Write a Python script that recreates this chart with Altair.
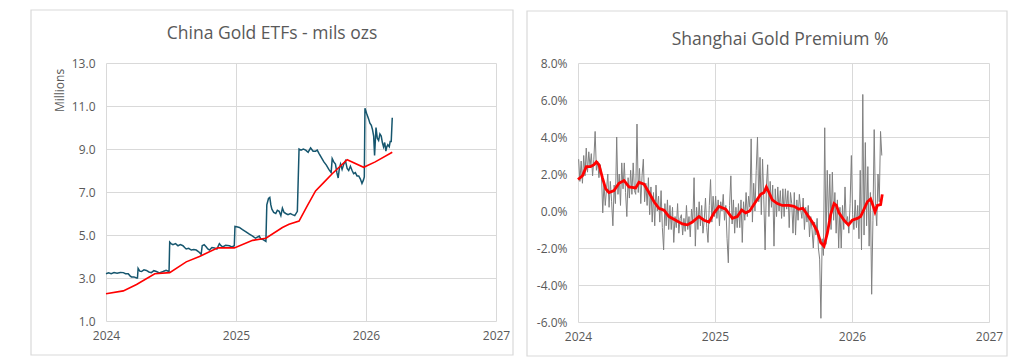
import altair as alt
import pandas as pd

# ---------------- data: China Gold ETFs (millions oz) ----------------
etf_x = [2024.0, 2024.020, 2024.040, 2024.062, 2024.085, 2024.110, 2024.133, 2024.150,
         2024.171, 2024.185, 2024.196, 2024.215, 2024.235, 2024.242,
         2024.247, 2024.260, 2024.273, 2024.292, 2024.311, 2024.330, 2024.349, 2024.368,
         2024.388, 2024.410, 2024.439, 2024.462, 2024.485,
         2024.490, 2024.500, 2024.515, 2024.535, 2024.554, 2024.572, 2024.592, 2024.605,
         2024.617, 2024.636, 2024.656, 2024.675, 2024.694, 2024.713, 2024.732,
         2024.740, 2024.755, 2024.770, 2024.783, 2024.796, 2024.815, 2024.834, 2024.853,
         2024.872, 2024.885, 2024.898, 2024.920, 2024.949, 2024.968, 2024.987,
         2024.992, 2025.005, 2025.026, 2025.050, 2025.077, 2025.100, 2025.128, 2025.150,
         2025.179, 2025.192, 2025.204, 2025.218, 2025.230,
         2025.237, 2025.250, 2025.260, 2025.268, 2025.276, 2025.290, 2025.306, 2025.318,
         2025.332, 2025.345, 2025.357, 2025.370, 2025.383, 2025.400, 2025.418, 2025.434,
         2025.452, 2025.472,
         2025.485, 2025.500, 2025.518, 2025.536, 2025.555, 2025.574, 2025.593, 2025.612,
         2025.625, 2025.638, 2025.657, 2025.676, 2025.695, 2025.714, 2025.732,
         2025.740, 2025.752, 2025.765, 2025.776, 2025.786, 2025.795, 2025.804, 2025.816,
         2025.829, 2025.842, 2025.855, 2025.867, 2025.880, 2025.893, 2025.905,
         2025.918, 2025.931, 2025.944, 2025.957, 2025.969, 2025.980, 2025.987,
         2025.992, 2026.005, 2026.020, 2026.030, 2026.041, 2026.050, 2026.059, 2026.066,
         2026.077, 2026.087, 2026.097, 2026.107, 2026.117, 2026.126, 2026.135, 2026.144,
         2026.153, 2026.160, 2026.168, 2026.179, 2026.186, 2026.194, 2026.202]
etf_y = [3.2, 3.24, 3.2, 3.25, 3.22, 3.26, 3.25, 3.2,
         3.2, 3.1, 3.05, 3.05, 3.0, 3.0,
         3.45, 3.32, 3.3, 3.38, 3.35, 3.28, 3.25, 3.34,
         3.3, 3.24, 3.3, 3.36, 3.3,
         4.67, 4.6, 4.55, 4.6, 4.5, 4.55, 4.5, 4.42,
         4.35, 4.38, 4.3, 4.32, 4.3, 4.22, 4.1,
         4.5, 4.55, 4.45, 4.35, 4.3, 4.42, 4.4, 4.35,
         4.6, 4.5, 4.45, 4.52, 4.5, 4.45, 4.5,
         5.4, 5.38, 5.35, 5.25, 5.15, 5.05, 4.95, 4.85,
         4.95, 4.8, 4.8, 4.75, 4.7,
         6.4, 6.7, 6.75, 6.4, 6.2, 6.05, 6.0, 6.15,
         6.1, 5.9, 6.25, 6.05, 6.0, 5.95, 6.0, 5.95,
         5.9, 6.1,
         9.0, 8.95, 9.0, 8.95, 8.85, 9.05, 8.9, 8.9,
         8.95, 8.8, 8.6, 8.4, 8.25, 8.05, 7.9,
         8.55, 8.4, 8.3, 7.9, 7.65, 8.1, 8.3, 8.05,
         8.3, 8.45, 8.1, 8.0, 8.2, 8.0, 7.85,
         7.9, 7.75, 7.75, 7.6, 7.4, 7.55, 7.7,
         10.9, 10.65, 10.4, 10.2, 10.1, 9.9, 9.6, 8.7,
         10.0, 9.5, 9.4, 9.7, 9.6, 9.3, 9.1, 9.3,
         8.9, 9.1, 9.2, 9.1, 9.35, 9.35, 10.45]

etf_ma_x = [2024.0, 2024.133, 2024.235, 2024.375, 2024.490, 2024.617, 2024.719, 2024.860,
            2024.987, 2025.128, 2025.230, 2025.357, 2025.408, 2025.485, 2025.548, 2025.612,
            2025.676, 2025.740, 2025.855, 2025.982, 2026.071, 2026.202]
etf_ma_y = [2.27, 2.4, 2.7, 3.2, 3.25, 3.75, 4.0, 4.4,
            4.4, 4.75, 4.85, 5.35, 5.5, 5.65, 6.35, 7.05,
            7.45, 7.85, 8.5, 8.15, 8.4, 8.85]

# ---------------- data: Shanghai Gold Premium (%) ----------------
# nine readings per month, Jan 2024 .. Mar 2026
prem_by_month = [
    [2.8, 1.6, 2.7, 1.5, 3.0, 1.9, 3.4, 2.1, 3.2],      # 2024-01
    [2.4, 3.1, 1.9, 2.8, 4.3, 2.2, 2.7, 1.8, 2.5],      # 2024-02
    [2.0, -0.1, 1.5, 0.3, 1.2, 2.0, 0.2, 1.6, 0.5],     # 2024-03
    [-0.8, 1.4, 0.4, 4.0, 0.9, 2.0, 0.3, 2.6, 1.2],     # 2024-04
    [2.6, 1.0, -0.3, 1.8, 0.7, 2.2, 0.9, 2.6, 1.1],     # 2024-05
    [0.9, 4.7, 1.0, 2.3, 0.4, 1.9, 2.8, 0.5, 1.5],      # 2024-06
    [0.3, 1.8, -0.2, 1.3, -0.6, 1.0, -0.8, 1.4, 0.0],   # 2024-07
    [0.8, -0.6, 1.1, -0.9, -2.1, 0.4, -0.8, 0.6, -1.0], # 2024-08
    [0.3, -1.0, 0.2, -1.7, -0.3, -0.9, 0.4, -1.2, -0.4],# 2024-09
    [-0.2, -1.3, -0.4, -1.1, 0.3, -1.0, -0.3, -1.4, 0.1],# 2024-10
    [-0.6, 1.8, -1.9, 0.2, -1.0, 0.5, -0.8, 0.3, -1.2], # 2024-11
    [-0.5, 0.7, -0.9, -1.7, 0.3, 1.7, -0.6, 0.8, -0.3], # 2024-12
    [0.8, -0.4, 0.6, -0.8, 0.5, 0.0, 0.9, -0.5, 0.3],   # 2025-01
    [-1.5, -2.8, 0.3, 1.9, -0.7, 0.6, -1.2, 0.2, -0.9], # 2025-02
    [0.4, -0.9, 0.6, -1.7, 0.5, -0.5, 1.0, -0.3, 0.8],  # 2025-03
    [0.2, 3.9, -0.6, 1.5, 0.0, 2.2, 4.0, 0.5, 2.9],     # 2025-04
    [-0.2, 2.8, 0.6, -2.1, 1.3, 2.5, -0.3, 1.6, 0.2],   # 2025-05
    [1.4, -1.9, 1.2, -0.3, 1.3, 0.0, 1.1, -0.4, 1.2],   # 2025-06
    [-0.3, 1.2, 0.1, 1.1, -0.9, 1.0, 0.4, -1.2, 1.0],   # 2025-07
    [-1.3, 0.6, -0.5, 0.9, 0.1, -0.4, 0.7, -1.0, 0.2],  # 2025-08
    [-0.6, 0.3, -1.4, -0.3, -1.0, -2.0, -0.6, -1.3, -0.4],# 2025-09
    [-2.0, -2.6, -5.8, -1.5, -2.4, 4.5, -1.8, 2.2, -0.5],# 2025-10
    [2.0, -1.0, 2.1, -0.5, 1.0, -1.2, 0.6, -2.0, 0.2],  # 2025-11
    [-2.0, 0.3, -1.0, 1.3, -0.7, -0.3, -1.2, 0.4, 3.0], # 2025-12
    [-0.2, -1.0, 0.6, -0.9, 0.3, -1.5, 2.2, -2.1, 6.3], # 2026-01
    [-1.3, 3.7, -0.8, 2.4, -1.9, 1.0, -4.5, -0.5, 4.4], # 2026-02
    [0.3, -0.8, 2.0, 0.5, 4.3, 3.0],                    # 2026-03
]

prem_ma_x = [2024.0, 2024.032, 2024.061, 2024.092, 2024.117, 2024.134, 2024.153, 2024.178,
             2024.202, 2024.226, 2024.263, 2024.299, 2024.336, 2024.372, 2024.421, 2024.445,
             2024.482, 2024.518, 2024.555, 2024.591, 2024.628, 2024.664, 2024.713, 2024.762,
             2024.798, 2024.835, 2024.883, 2024.920, 2024.956, 2024.993, 2025.029, 2025.078,
             2025.127, 2025.163, 2025.195, 2025.224, 2025.253, 2025.297, 2025.333, 2025.358,
             2025.375, 2025.394, 2025.418, 2025.455, 2025.491, 2025.540, 2025.577, 2025.613,
             2025.642, 2025.674, 2025.710, 2025.747, 2025.771, 2025.796, 2025.820, 2025.844,
             2025.869, 2025.886, 2025.905, 2025.942, 2025.974, 2026.002, 2026.039, 2026.063,
             2026.088, 2026.112, 2026.136, 2026.153, 2026.168, 2026.185, 2026.209, 2026.221]
prem_ma_y = [1.7, 1.9, 2.4, 2.4, 2.5, 2.65, 2.5, 1.8,
             1.2, 1.0, 1.1, 1.5, 1.65, 1.3, 1.25, 1.55,
             1.45, 1.0, 0.5, 0.15, 0.05, -0.3, -0.5, -0.7,
             -0.75, -0.6, -0.3, -0.5, -0.6, -0.1, 0.25, 0.1,
             -0.4, -0.3, 0.05, -0.1, 0.0, 0.5, 0.9, 1.0,
             1.3, 1.0, 0.6, 0.4, 0.3, 0.3, 0.25, 0.1,
             0.15, -0.2, -0.6, -1.1, -1.7, -1.9, -1.2, -0.2,
             0.4, 0.3, -0.1, -0.5, -0.75, -0.5, -0.4, -0.3,
             0.1, 0.5, 0.65, 0.3, -0.05, 0.3, 0.35, 0.9]

year_ticks = [2024, 2025, 2026, 2027]
etf_ticks = [1, 3, 5, 7, 9, 11, 13]
prem_ticks = [-6, -4, -2, 0, 2, 4, 6, 8]
left_title = "China Gold ETFs - mils ozs"
right_title = "Shanghai Gold Premium %"

# ---------------- tables ----------------
etf_df = pd.DataFrame({"x": etf_x, "y": etf_y})
etf_ma_df = pd.DataFrame({"x": etf_ma_x, "y": etf_ma_y})
px, py = [], []
for m, vals in enumerate(prem_by_month):
    for j, v in enumerate(vals):
        px.append(2024 + m / 12 + (j + 0.5) / 108)
        py.append(v)
prem_df = pd.DataFrame({"x": px, "y": py})
prem_ma_df = pd.DataFrame({"x": prem_ma_x, "y": prem_ma_y})

GRID = "#D9D9D9"
TXT = "#595959"
FONT = "Open Sans"
one = pd.DataFrame({"a": [0]})


def x_enc():
    return alt.X("x:Q", scale=alt.Scale(domain=[2024, 2027], nice=False, zero=False),
                 axis=alt.Axis(values=year_ticks, format="d", title=None, labelFlush=False,
                               labelPadding=9, labelOverlap=False))


def border(x1, x2, y1, y2):
    return alt.Chart(one).mark_rect(
        fill="transparent", stroke=GRID, strokeWidth=1.2
    ).encode(x=alt.value(x1), x2=alt.value(x2), y=alt.value(y1), y2=alt.value(y2))


def title_mark(text, cx, cy):
    return alt.Chart(one).mark_text(
        text=text, font=FONT, fontSize=17.5, color=TXT, align="center", baseline="middle"
    ).encode(x=alt.value(cx), y=alt.value(cy))


# ---------------- left panel ----------------
def etf_y_enc():
    return alt.Y("y:Q", scale=alt.Scale(domain=[1, 13], nice=False, zero=False),
                 axis=alt.Axis(values=etf_ticks, format=".1f", title="Millions",
                               titleX=-47, titleY=27, titleAlign="center",
                               titleBaseline="middle", labelPadding=11, labelFlush=False,
                               labelOverlap=False))


etf_line = alt.Chart(etf_df).mark_line(color="#16566E", strokeWidth=1.5).encode(x=x_enc(), y=etf_y_enc())
etf_ma = alt.Chart(etf_ma_df).mark_line(color="#FF0000", strokeWidth=1.6).encode(x=x_enc(), y=etf_y_enc())

left = alt.layer(border(-75, 407, -53, 292), title_mark(left_title, 166, -29),
                 etf_line, etf_ma).properties(width=390, height=258)


# ---------------- right panel ----------------
def prem_y_enc():
    return alt.Y("y:Q", scale=alt.Scale(domain=[-6, 8], nice=False, zero=False),
                 axis=alt.Axis(values=prem_ticks, title=None, labelPadding=11,
                               labelFlush=False, labelOverlap=False,
                               labelExpr="(datum.value < 0 ? '-' : '') + format(abs(datum.value), '.1f') + '%'"))


prem_line = alt.Chart(prem_df).mark_line(color="#808080", strokeWidth=1).encode(x=x_enc(), y=prem_y_enc())
prem_ma = alt.Chart(prem_ma_df).mark_line(color="#FF0000", strokeWidth=2.8).encode(x=x_enc(), y=prem_y_enc())

right = alt.layer(border(-51, 429, -52, 293), title_mark(right_title, 202, -23),
                  prem_line, prem_ma).properties(width=411, height=259)

chart = alt.hconcat(left, right, spacing=10).properties(
    padding={"left": 21, "top": 0, "right": 0, "bottom": 0},
    background="white",
).configure_view(stroke="transparent").configure_axis(
    grid=True, gridColor=GRID, gridWidth=1, domain=False, ticks=False,
    labelFont=FONT, labelFontSize=12, labelColor=TXT,
    titleFont=FONT, titleFontSize=12, titleColor=TXT, titleFontWeight="normal",
)

chart.save("out.html", embed_options={"renderer": "svg", "actions": False})
